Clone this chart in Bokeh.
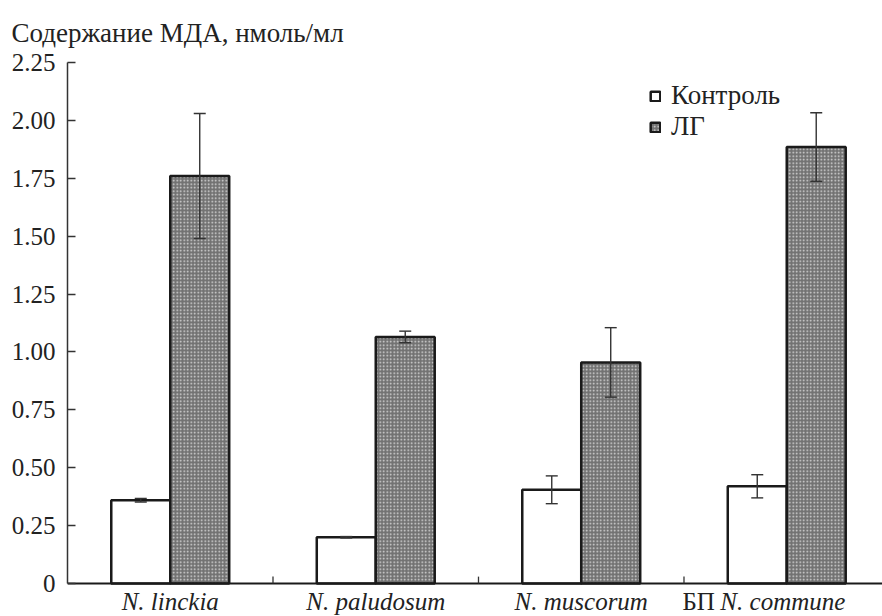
from bokeh.plotting import figure
from bokeh.models import (ColumnDataSource, Whisker, TeeHead, FixedTicker,
                          Legend, LegendItem, Range1d)
from bokeh.core.properties import value
from bokeh.embed import file_html
from bokeh.resources import INLINE

# MDA content, nmol/ml: control vs. ЛГ treatment
categories = ["N. linckia", "N. paludosum", "N. muscorum", "БП N. commune"]
control = [0.36, 0.20, 0.405, 0.42]
control_err = [0.008, 0.003, 0.06, 0.05]
lg = [1.76, 1.065, 0.955, 1.885]
lg_err = [0.27, 0.025, 0.15, 0.148]
y_ticks = [0, 0.25, 0.5, 0.75, 1.0, 1.25, 1.5, 1.75, 2.0, 2.25]
y_tick_labels = ["0", "0.25", "0.50", "0.75", "1.00", "1.25", "1.50", "1.75", "2.00", "2.25"]
series_names = ["Контроль", "ЛГ"]

SERIF = "Liberation Serif"
INK = "#222222"
BAR_W = 0.287
N = len(categories)
X_END = 3.966          # the category axis runs slightly past the right edge
Y_BOTTOM = -0.1422     # room under the baseline for the species names

centers = [i + 0.5 for i in range(N)]
x_ctrl = [c - BAR_W / 2 for c in centers]
x_lg = [c + BAR_W / 2 for c in centers]

src_ctrl = ColumnDataSource(dict(x=x_ctrl, top=control,
                                 lo=[v - e for v, e in zip(control, control_err)],
                                 hi=[v + e for v, e in zip(control, control_err)]))
src_lg = ColumnDataSource(dict(x=x_lg, top=lg,
                               lo=[v - e for v, e in zip(lg, lg_err)],
                               hi=[v + e for v, e in zip(lg, lg_err)]))

p = figure(width=882, height=616, output_backend="svg", toolbar_location=None,
           x_range=Range1d(0, X_END), y_range=Range1d(Y_BOTTOM, 2.25),
           x_axis_location=None,
           min_border_left=67, min_border_right=0, min_border_top=61,
           min_border_bottom=0)
p.outline_line_color = None
p.grid.visible = False

# title over the value axis
p.title.text = "Содержание МДА, нмоль/мл"
p.title.align = "left"
p.title.offset = -56
p.title.text_font = SERIF
p.title.text_font_size = "27px"
p.title.text_font_style = "normal"
p.title.text_color = INK
p.title.standoff = 30

# bars
r_ctrl = p.vbar(x="x", top="top", width=BAR_W, bottom=0, source=src_ctrl,
                fill_color="white", line_color="#1a1a1a", line_width=2.5)
r_lg = p.vbar(x="x", top="top", width=BAR_W, bottom=0, source=src_lg,
              fill_color="#727272", hatch_pattern="dot", hatch_color="#dcdcdc",
              hatch_scale=3.5, hatch_weight=1.4,
              line_color="#1a1a1a", line_width=2.5)

# error bars, drawn over the bars
for src in (src_ctrl, src_lg):
    head = dict(size=12, line_color="#333333", line_width=1.4)
    p.add_layout(Whisker(source=src, base="x", upper="hi", lower="lo",
                         line_color="#333333", line_width=1.4, level="overlay",
                         upper_head=TeeHead(**head), lower_head=TeeHead(**head)))

# category baseline with small separators between groups
p.segment(x0=[0], y0=[0], x1=[X_END], y1=[0], line_color="#1a1a1a", line_width=2)
sep = list(range(1, N))
p.segment(x0=sep, y0=[0] * len(sep), x1=sep, y1=[0.03] * len(sep),
          line_color="#333333", line_width=1.3)

# species names under the groups
label_y = -0.0776
name_style = dict(text_font=value(SERIF), text_font_size="25px",
                  text_baseline="middle", text_color=INK)
p.text(x=centers[:3], y=[label_y] * 3, text=categories[:3],
       text_font_style="italic", text_align="center", **name_style)
prefix, species = categories[3].split(" ", 1)
p.text(x=[3.15], y=[label_y], text=[prefix], text_align="right", **name_style)
p.text(x=[3.177], y=[label_y], text=[species], text_font_style="italic",
       text_align="left", **name_style)

# value axis: inward ticks, serif labels, line only over 0..2.25
p.yaxis.bounds = (0, 2.25)
p.yaxis.ticker = FixedTicker(ticks=y_ticks)
p.yaxis.major_label_overrides = {t: s for t, s in zip(y_ticks, y_tick_labels)}
p.yaxis.major_tick_in = 8
p.yaxis.major_tick_out = 0
p.yaxis.minor_tick_line_color = None
p.yaxis.axis_line_color = "#333333"
p.yaxis.axis_line_width = 1.5
p.yaxis.major_tick_line_color = "#333333"
p.yaxis.major_tick_line_width = 1.3
p.yaxis.major_label_text_font = SERIF
p.yaxis.major_label_text_font_size = "25px"
p.yaxis.major_label_text_color = INK
p.yaxis.major_label_standoff = 12

legend = Legend(items=[LegendItem(label=series_names[0], renderers=[r_ctrl]),
                       LegendItem(label=series_names[1], renderers=[r_lg])],
                location=(582, 474), orientation="vertical",
                glyph_width=12, glyph_height=12, label_standoff=10,
                label_text_font=SERIF, label_text_font_size="27px",
                label_text_color=INK, label_height=27, spacing=0,
                padding=0, margin=0, border_line_color=None,
                background_fill_alpha=0)
p.add_layout(legend)

open("out.html", "w").write(file_html(p, INLINE))
